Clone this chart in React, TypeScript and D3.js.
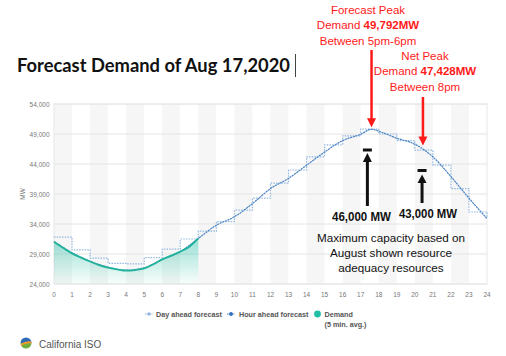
import React from 'react';
import * as d3 from 'd3';

const xTicks = [0,1,2,3,4,5,6,7,8,9,10,11,12,13,14,15,16,17,18,19,20,21,22,23,24];
const yTicks = [24000, 29000, 34000, 39000, 44000, 49000, 54000];

// Day ahead forecast: hourly values, hour h -> h+1 (last repeated to close step at 24)
const dayAheadHours = [0,1,2,3,4,5,6,7,8,9,10,11,12,13,14,15,16,17,18,19,20,21,22,23,24];
const dayAheadValues = [31800, 29700, 28300, 27450, 27350, 28400, 29800, 31500, 32800, 34400, 36300, 38300, 40800, 43000, 45200, 47200, 48700, 49800, 49000, 47900, 46300, 43800, 39900, 36000, 35000];

// Hour ahead forecast
const hourAheadHours = [0,1,2,3,4,5,6,7,8,9,10,11,12,13,14,15,16,17,17.6,18,19,20,21,22,23,24];
const hourAheadValues = [31100, 29200, 27800, 26800, 26300, 26700, 28100, 29400, 31600, 33800, 35200, 37400, 39900, 41600, 43800, 46000, 47900, 48950, 49792, 49450, 48300, 47300, 45200, 41900, 38300, 34900];

// Demand (5 min avg), available 0-8
const demandHours = [0,0.5,1,1.5,2,2.5,3,3.5,4,4.5,5,5.5,6,6.5,7,7.5,8];
const demandValues = [31050, 30050, 29100, 28400, 27750, 27150, 26720, 26440, 26220, 26330, 26600, 27280, 28110, 28720, 29390, 30220, 31600];

const W = 506, H = 356;
const L = 54, R = 487, T = 104, B = 284;

export default function App() {
  const x = d3.scaleLinear().domain([0, 24]).range([L, R]);
  const y = d3.scaleLinear().domain([24000, 54000]).range([B, T]);
  const fmt = d3.format(',');

  const dayLine = d3.line<number>().x((_, i) => x(dayAheadHours[i])).y(d => y(d)).curve(d3.curveStepAfter)(dayAheadValues) || '';
  const hourLine = d3.line<number>().x((_, i) => x(hourAheadHours[i])).y(d => y(d)).curve(d3.curveMonotoneX)(hourAheadValues) || '';
  const demLine = d3.line<number>().x((_, i) => x(demandHours[i])).y(d => y(d)).curve(d3.curveMonotoneX)(demandValues) || '';
  const demArea = d3.area<number>().x((_, i) => x(demandHours[i])).y0(B).y1(d => y(d)).curve(d3.curveMonotoneX)(demandValues) || '';

  const sans = 'Liberation Sans, Arial, sans-serif';
  const red = '#ff1a1a';

  const peakX = x(17.6);
  const netX = x(20.45);
  const cap1X = x(17.37);
  const cap2X = x(20.4);

  return (
    <svg width={W} height={H} style={{ position: 'absolute', left: 0, top: 0, background: '#fff' }} xmlns="http://www.w3.org/2000/svg">
      <defs>
        <linearGradient id="demG" gradientUnits="userSpaceOnUse" x1="0" y1={y(31000)} x2="0" y2={B}>
          <stop offset="0" stopColor="#2bbfa6" stopOpacity="0.45" />
          <stop offset="1" stopColor="#2bbfa6" stopOpacity="0.03" />
        </linearGradient>
        <clipPath id="logoClip"><circle cx={26} cy={343} r={5.5} /></clipPath>
      </defs>

      {/* Title */}
      <text x={17} y={72} fontFamily="Lato, sans-serif" fontWeight={700} fontSize={19.5} fill="#111" textLength={273} lengthAdjust="spacingAndGlyphs">Forecast Demand of Aug 17,2020</text>
      <line x1={295.5} x2={295.5} y1={54} y2={77} stroke="#444" strokeWidth={1} />

      {/* Plot background bands */}
      {xTicks.slice(0, 24).map(h => (
        <rect key={'b' + h} x={x(h)} y={T} width={x(h + 1) - x(h)} height={B - T} fill={h % 2 === 0 ? '#f6f6f6' : '#ffffff'} />
      ))}
      {yTicks.map(v => (
        <line key={'g' + v} x1={L} x2={R} y1={y(v)} y2={y(v)} stroke="#e4e4e4" strokeWidth={1} />
      ))}
      <rect x={L} y={T} width={R - L} height={B - T} fill="none" stroke="#e8e8e8" strokeWidth={1} />

      {/* Y axis labels */}
      {yTicks.map(v => (
        <text key={'yl' + v} x={49.5} y={y(v) + 2.5} textAnchor="end" fontFamily={sans} fontSize={6.5} fill="#777">{fmt(v)}</text>
      ))}
      <text transform={`translate(24.5,${(T + B) / 2}) rotate(-90)`} textAnchor="middle" fontFamily={sans} fontSize={6.5} fill="#777">MW</text>

      {/* X axis labels */}
      {xTicks.map(h => (
        <text key={'xl' + h} x={x(h)} y={297} textAnchor="middle" fontFamily={sans} fontSize={6.5} fill="#777">{h}</text>
      ))}

      {/* Series */}
      <path d={demArea} fill="url(#demG)" />
      <path d={dayLine} fill="none" stroke="#93b8e0" strokeWidth={1.2} strokeDasharray="1.5,1.2" />
      <path d={hourLine} fill="none" stroke="#4a84c4" strokeWidth={1.2} strokeDasharray="2.2,0.6" />
      <path d={demLine} fill="none" stroke="#1fb39b" strokeWidth={1.8} />

      {/* Red annotations */}
      <g fontFamily={sans} fontSize={11.5} fill={red} textAnchor="middle">
        <text x={368} y={13.5}>Forecast Peak</text>
        <text x={368} y={29}>Demand <tspan fontWeight={700}>49,792MW</tspan></text>
        <text x={368} y={44.5}>Between 5pm-6pm</text>
        <text x={425} y={59.5}>Net Peak</text>
        <text x={425} y={75}>Demand <tspan fontWeight={700}>47,428MW</tspan></text>
        <text x={425} y={90.5}>Between 8pm</text>
      </g>
      <line x1={peakX} x2={peakX} y1={50} y2={y(49792) - 10} stroke={red} strokeWidth={2.5} />
      <path d={`M${peakX - 4.5},${y(49792) - 11} L${peakX + 4.5},${y(49792) - 11} L${peakX},${y(49792) - 2} Z`} fill={red} />
      <line x1={netX} x2={netX} y1={97} y2={y(47428) - 6} stroke={red} strokeWidth={2.5} />
      <path d={`M${netX - 4.5},${y(47428) - 7} L${netX + 4.5},${y(47428) - 7} L${netX},${y(47428) + 2} Z`} fill={red} />

      {/* Black capacity markers */}
      <rect x={cap1X - 4.5} y={y(46000) - 3.5} width={9} height={3} fill="#111" />
      <path d={`M${cap1X - 4.5},${y(46000) + 10} L${cap1X + 4.5},${y(46000) + 10} L${cap1X},${y(46000) + 1} Z`} fill="#111" />
      <line x1={cap1X} x2={cap1X} y1={y(46000) + 9} y2={206} stroke="#111" strokeWidth={3} />
      <rect x={cap2X - 4.5} y={y(43000) - 1} width={9} height={3} fill="#111" />
      <path d={`M${cap2X - 4.5},${y(43000) + 13} L${cap2X + 4.5},${y(43000) + 13} L${cap2X},${y(43000) + 4.5} Z`} fill="#111" />
      <line x1={cap2X} x2={cap2X} y1={y(43000) + 12} y2={203} stroke="#111" strokeWidth={3} />

      <g fontFamily={sans} fontWeight={700} fontSize={12.5} fill="#111" textAnchor="middle">
        <text x={361.5} y={221} textLength={59} lengthAdjust="spacingAndGlyphs">46,000 MW</text>
        <text x={428} y={218} textLength={58} lengthAdjust="spacingAndGlyphs">43,000 MW</text>
      </g>
      <g fontFamily={sans} fontSize={11.7} fill="#111" textAnchor="middle">
        <text x={391} y={242}>Maximum capacity based on</text>
        <text x={391} y={257}>August shown resource</text>
        <text x={391} y={272}>adequacy resources</text>
      </g>

      {/* Legend */}
      <g fontFamily={sans} fontSize={7.2} fontWeight={600} fill="#555">
        <line x1={145} x2={153} y1={314} y2={314} stroke="#93b8e0" strokeWidth={1} strokeDasharray="1.5,1" />
        <circle cx={149} cy={314} r={1.8} fill="#93b8e0" />
        <text x={156} y={316.5}>Day ahead forecast</text>
        <line x1={227} x2={235} y1={314} y2={314} stroke="#2f6fbf" strokeWidth={1} strokeDasharray="1.5,1" />
        <circle cx={231} cy={314} r={1.9} fill="#2f6fbf" />
        <text x={239} y={316.5}>Hour ahead forecast</text>
        <circle cx={317.5} cy={314} r={3.4} fill="#1fc0a6" />
        <text x={324.5} y={316.5}>Demand</text>
        <text x={324.5} y={326.5}>(5 min. avg.)</text>
      </g>

      {/* Logo */}
      <g clipPath="url(#logoClip)">
        <rect x={20} y={337} width={12} height={6} fill="#2e6db4" />
        <rect x={20} y={343} width={12} height={6} fill="#6fae3f" />
        <path d="M20,344.5 Q26,340 32,341.5 L32,343.5 Q26,342.5 20,346.5 Z" fill="#f29a2e" />
      </g>
      <text x={39} y={348} fontFamily={sans} fontSize={10} fill="#555">California ISO</text>
    </svg>
  );
}
